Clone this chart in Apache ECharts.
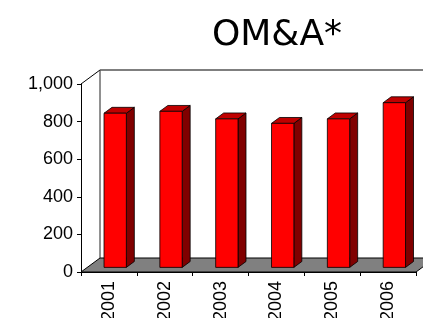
<!DOCTYPE html>
<html>
<head>
<meta charset="utf-8">
<script src="https://cdn.jsdelivr.net/npm/echarts@6/dist/echarts.min.js"></script>
<style>
  html, body { margin: 0; padding: 0; background: #fff; }
  #chart { width: 423px; height: 318px; }
</style>
</head>
<body>
<div id="chart"></div>
<script>
// data
const years = ["2001", "2002", "2003", "2004", "2005", "2006"];
const omaValues = [820, 830, 790, 766, 790, 876];
const yTicks = [0, 200, 400, 600, 800, 1000];

// 3d look: depth of the floor in px, bars sit in the middle of it
const DX = 19, DY = -14;
const BAR_FRONT = 0.33, BAR_DEPTH = 0.42;

function renderBox(params, api) {
  const cs = params.coordSys;
  const x0 = cs.x, x1 = cs.x + cs.width;
  const yb = cs.y + cs.height, yt = cs.y;
  return {
    type: "group",
    children: [
      { type: "polygon", shape: { points: [[x0, yb], [x1, yb], [x1 + DX, yb + DY], [x0 + DX, yb + DY]] },
        style: { fill: "#808080", stroke: "#000", lineWidth: 1 } },
      { type: "line", shape: { x1: x0, y1: yt, x2: x0 + DX, y2: yt + DY }, style: { stroke: "#000", lineWidth: 1 } },
      { type: "line", shape: { x1: x0 + DX, y1: yt + DY, x2: x0 + DX, y2: yb + DY }, style: { stroke: "#222", lineWidth: 1 } },
      { type: "line", shape: { x1: x0 + DX, y1: yt + DY, x2: x1 + DX, y2: yt + DY }, style: { stroke: "#555", lineWidth: 1.5 } }
    ]
  };
}

function renderBar(params, api) {
  const base = api.coord([api.value(0), 0]);
  const top = api.coord([api.value(0), api.value(1)]);
  const bw = api.size([1, 0])[0] * 0.4;
  const ox = DX * BAR_FRONT, oy = DY * BAR_FRONT;
  const dx = DX * BAR_DEPTH, dy = DY * BAR_DEPTH;
  const l = base[0] - bw / 2 + ox, r = l + bw;
  const b = base[1] + oy, t = top[1] + oy;
  const st = { stroke: "#000", lineWidth: 0.8 };
  return {
    type: "group",
    children: [
      { type: "polygon", shape: { points: [[r, b], [r + dx, b + dy], [r + dx, t + dy], [r, t]] },
        style: Object.assign({ fill: "#800000" }, st) },
      { type: "polygon", shape: { points: [[l, t], [r, t], [r + dx, t + dy], [l + dx, t + dy]] },
        style: Object.assign({ fill: "#c00000" }, st) },
      { type: "rect", shape: { x: l, y: t, width: bw, height: b - t },
        style: Object.assign({ fill: "#ff0000" }, st) }
    ]
  };
}

const chart = echarts.init(document.getElementById("chart"));
chart.setOption({
  animation: false,
  title: {
    text: "OM&A*",
    left: 272, top: 13,
    textAlign: "center",
    textStyle: { fontFamily: "DejaVu Sans", fontWeight: "normal", fontSize: 36, color: "#000" }
  },
  grid: { left: 81, right: 7, top: 84, bottom: 46, containLabel: false, outerBoundsMode: "none" },
  xAxis: {
    type: "category",
    data: years,
    boundaryGap: true,
    axisLine: { lineStyle: { color: "#000", width: 1 } },
    axisTick: { show: true, length: 4, lineStyle: { color: "#000" } },
    axisLabel: { rotate: 90, margin: 9, fontSize: 18, color: "#000", fontFamily: "Liberation Sans" }
  },
  yAxis: {
    type: "value",
    min: yTicks[0], max: yTicks[yTicks.length - 1], interval: 200,
    axisLine: { show: true, lineStyle: { color: "#000", width: 1 } },
    axisTick: { show: true, length: 4, lineStyle: { color: "#000" } },
    splitLine: { show: false },
    axisLabel: {
      margin: 8, fontSize: 18, color: "#000", fontFamily: "Liberation Sans",
      formatter: v => v.toLocaleString("en-US")
    }
  },
  series: [
    { type: "custom", renderItem: renderBox, data: [[0, 0]], z: 1, silent: true },
    { type: "custom", renderItem: renderBar, data: omaValues.map((v, i) => [i, v]), z: 2 }
  ]
});
</script>
</body>
</html>
